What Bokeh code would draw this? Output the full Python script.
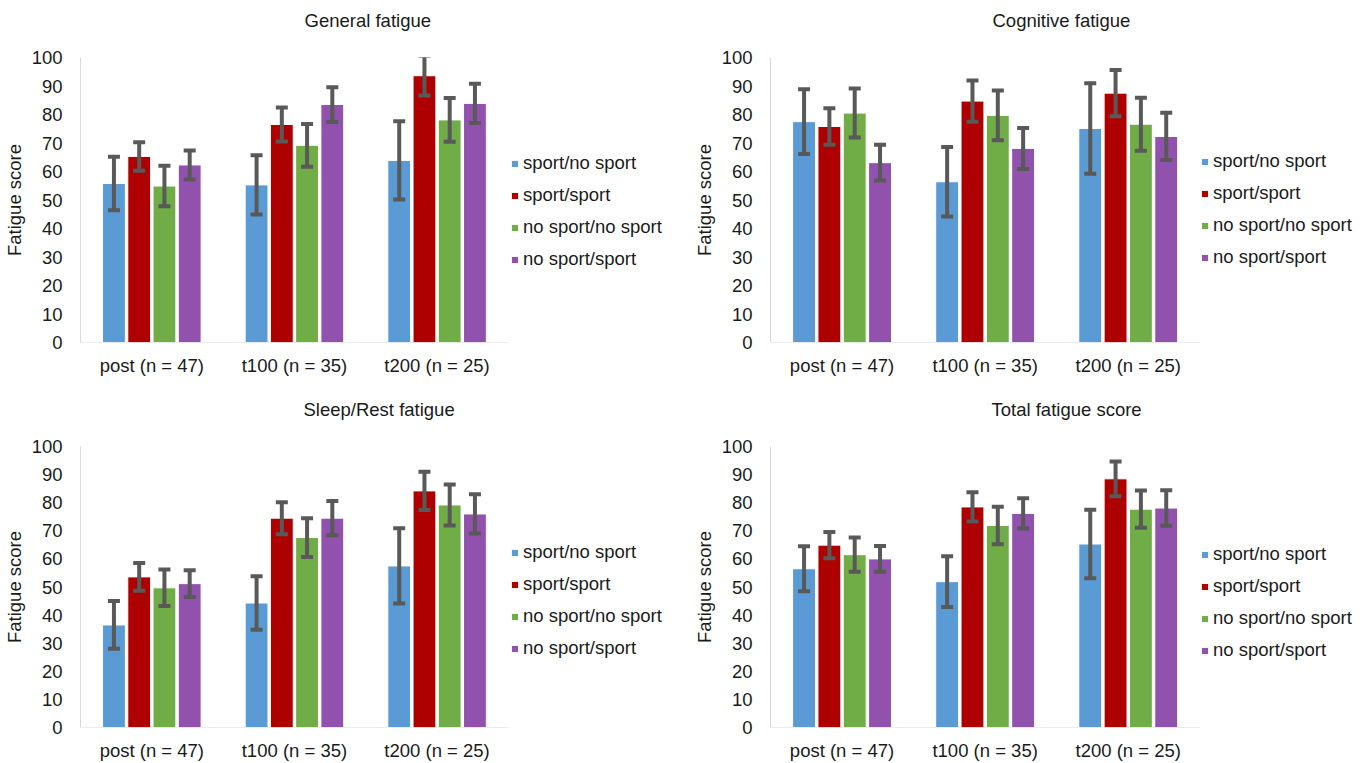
from bokeh.plotting import figure
from bokeh.models import (ColumnDataSource, Range1d, Whisker, TeeHead, Legend,
                          LegendItem, FixedTicker, Title)
from bokeh.layouts import column, row
from bokeh.embed import file_html
from bokeh.resources import INLINE

timepoints = ["post (n = 47)", "t100 (n = 35)", "t200 (n = 25)"]
groups = ["sport/no sport", "sport/sport", "no sport/no sport", "no sport/sport"]
colors = ["#5B9BD5", "#AE0000", "#70AD47", "#9152AD"]

general_mean = {
    "sport/no sport": [55.8, 55.3, 63.9],
    "sport/sport": [65.3, 76.5, 93.6],
    "no sport/no sport": [54.9, 69.2, 78.1],
    "no sport/sport": [62.3, 83.5, 83.9],
}
general_err = {
    "sport/no sport": [9.4, 10.4, 13.7],
    "sport/sport": [5.0, 6.0, 6.9],
    "no sport/no sport": [7.1, 7.5, 7.7],
    "no sport/sport": [5.1, 6.1, 6.9],
}
cognitive_mean = {
    "sport/no sport": [77.5, 56.4, 75.1],
    "sport/sport": [75.8, 84.7, 87.5],
    "no sport/no sport": [80.5, 79.7, 76.6],
    "no sport/sport": [63.1, 68.1, 72.3],
}
cognitive_err = {
    "sport/no sport": [11.4, 12.2, 15.9],
    "sport/sport": [6.4, 7.2, 8.1],
    "no sport/no sport": [8.6, 8.7, 9.3],
    "no sport/sport": [6.3, 7.2, 8.3],
}
sleep_mean = {
    "sport/no sport": [36.5, 44.3, 57.5],
    "sport/sport": [53.6, 74.5, 84.2],
    "no sport/no sport": [49.7, 67.6, 79.2],
    "no sport/sport": [51.2, 74.5, 76.0],
}
sleep_err = {
    "sport/no sport": [8.5, 9.5, 13.4],
    "sport/sport": [4.9, 5.7, 6.8],
    "no sport/no sport": [6.5, 6.9, 7.3],
    "no sport/sport": [4.8, 6.1, 7.0],
}
total_mean = {
    "sport/no sport": [56.5, 51.9, 65.3],
    "sport/sport": [64.9, 78.5, 88.5],
    "no sport/no sport": [61.5, 71.9, 77.7],
    "no sport/sport": [60.0, 76.2, 78.1],
}
total_err = {
    "sport/no sport": [8.0, 9.0, 12.2],
    "sport/sport": [4.7, 5.2, 6.2],
    "no sport/no sport": [6.1, 6.7, 6.6],
    "no sport/sport": [4.6, 5.4, 6.3],
}
y_ticks = [0, 10, 20, 30, 40, 50, 60, 70, 80, 90, 100]

FONT = "Liberation Sans"
FS = "18.5px"
TXT = "#1a1a1a"
AXIS = "#d9d9d9"
ERR = "#595959"
PLOT_W = 430  # pixel width of the bar area


def make_panel(title, means, errs, w, h, left, top, bottom, title_off, legend_y):
    n = len(timepoints)
    frame_w = w - left
    x_end = n * frame_w / PLOT_W
    p = figure(x_range=Range1d(0, x_end), y_range=Range1d(0, 100), width=w, height=h,
               min_border_left=left, min_border_right=0,
               min_border_top=top, min_border_bottom=bottom,
               output_backend="svg", toolbar_location=None,
               background_fill_color="white", border_fill_color="white")
    p.outline_line_color = None
    p.xgrid.grid_line_color = None
    p.ygrid.grid_line_color = None

    # invisible spacer between frame and title, then the title itself
    spacer = Title(text=" ", text_font_size="10px", standoff=12, text_color="white")
    p.add_layout(spacer, "above")
    t = Title(text=title, align="left", offset=title_off, text_font=FONT,
              text_font_size=FS, text_font_style="normal", text_color=TXT,
              standoff=4)
    p.add_layout(t, "above")

    p.xaxis.ticker = FixedTicker(ticks=[i + 0.5 for i in range(n)])
    p.xaxis.major_label_overrides = {i + 0.5: lab for i, lab in enumerate(timepoints)}
    p.yaxis.ticker = FixedTicker(ticks=y_ticks)
    for ax in (p.xaxis[0], p.yaxis[0]):
        ax.major_tick_line_color = None
        ax.minor_tick_line_color = None
        ax.major_label_text_font = FONT
        ax.major_label_text_font_size = FS
        ax.major_label_text_color = TXT
    p.xaxis.axis_line_color = None
    p.yaxis.axis_line_color = AXIS
    p.xaxis.major_label_standoff = 6
    p.yaxis.major_label_standoff = 12
    p.yaxis.axis_label = "Fatigue score"
    p.yaxis.axis_label_text_font = FONT
    p.yaxis.axis_label_text_font_size = FS
    p.yaxis.axis_label_text_font_style = "normal"
    p.yaxis.axis_label_text_color = TXT
    p.yaxis.axis_label_standoff = 4

    # category-axis baseline spanning only the bar area
    p.line(x=[0, n], y=[0, 0], line_color=AXIS, line_width=1)

    step = 0.177
    items = []
    for i, g in enumerate(groups):
        off = (i - 1.5) * step
        m = means[g]
        e = errs[g]
        src = ColumnDataSource(dict(
            x=[k + 0.5 + off for k in range(n)], v=m,
            upper=[a + b for a, b in zip(m, e)],
            lower=[a - b for a, b in zip(m, e)],
        ))
        r = p.vbar(x="x", top="v", bottom=0, width=0.16, source=src,
                   fill_color=colors[i], line_color="white", line_width=1)
        items.append(LegendItem(label=g, renderers=[r]))
        wk = Whisker(source=src, base="x", upper="upper", lower="lower",
                     line_color=ERR, line_width=4, level="overlay",
                     upper_head=TeeHead(size=12, line_color=ERR, line_width=4),
                     lower_head=TeeHead(size=12, line_color=ERR, line_width=4))
        p.add_layout(wk)

    leg = Legend(items=items, location=(PLOT_W, legend_y), orientation="vertical",
                 margin=0, padding=8, spacing=10, glyph_width=9, glyph_height=9,
                 label_height=20, label_standoff=4, border_line_color=None,
                 background_fill_alpha=0, label_text_font=FONT,
                 label_text_font_size=FS, label_text_color=TXT)
    p.add_layout(leg, "center")
    return p


p1 = make_panel("General fatigue", general_mean, general_err, 690, 390, 77, 56, 48, 224, 72)
p2 = make_panel("Cognitive fatigue", cognitive_mean, cognitive_err, 675, 390, 79, 57, 47, 222, 74)
p3 = make_panel("Sleep/Rest fatigue", sleep_mean, sleep_err, 690, 373, 77, 55, 33, 223, 68)
p4 = make_panel("Total fatigue score", total_mean, total_err, 675, 373, 79, 56, 30, 221, 66)

layout = column(row(p1, p2), row(p3, p4))
open("out.html", "w").write(file_html(layout, INLINE))
